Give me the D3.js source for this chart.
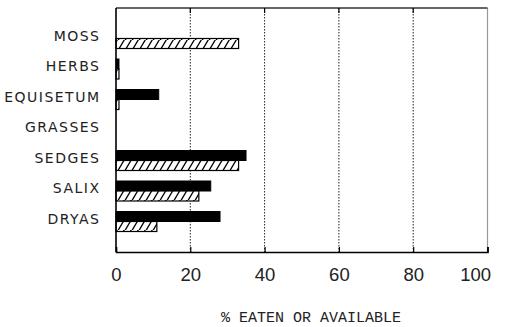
<!DOCTYPE html>
<html><head><meta charset="utf-8">
<script src="https://cdn.jsdelivr.net/npm/d3@7"></script>
<style>
html,body{margin:0;padding:0;background:#fff;}
</style></head>
<body>
<svg id="c" width="508" height="327"></svg>
<script>
const categories = ["MOSS","HERBS","EQUISETUM","GRASSES","SEDGES","SALIX","DRYAS"];
const eaten =      [0, 0.8, 11.5, 0, 35, 25.5, 28];
const available =  [33, 0.8, 0.8, 0, 33, 22.3, 11];
const ticks = [0,20,40,60,80,100];
const xTitle = "% EATEN OR AVAILABLE";

const svg = d3.select("#c");
const L=116, R=487.5, T=8, B=252;
const x = d3.scaleLinear().domain([0,100]).range([L,R]);
const y = d3.scalePoint().domain(categories).range([T,B]).padding(1);
const bh = 10;

const defs = svg.append("defs");
const pat = defs.append("pattern").attr("id","hatch").attr("patternUnits","userSpaceOnUse")
  .attr("width",7).attr("height",10);
pat.append("rect").attr("width",7).attr("height",10).attr("fill","#fff");
pat.append("path").attr("d","M-1,10.5 L5.5,-0.5 M6,10.5 L12.5,-0.5 M-8,10.5 L-1.5,-0.5").attr("stroke","#000").attr("stroke-width",1.3);

// grid
svg.append("g").selectAll("line").data(ticks.filter(t=>t>0&&t<100)).join("line")
  .attr("x1",d=>x(d)).attr("x2",d=>x(d)).attr("y1",T).attr("y2",B)
  .attr("stroke","#222").attr("stroke-width",1).attr("stroke-dasharray","1.5,1.5");

// frame
svg.append("line").attr("x1",R).attr("x2",R).attr("y1",T).attr("y2",B).attr("stroke","#999").attr("stroke-width",1.2);
svg.append("line").attr("x1",L).attr("x2",R).attr("y1",T).attr("y2",T).attr("stroke","#333").attr("stroke-width",1.5);

// bars
const g = svg.append("g");
categories.forEach((c,i)=>{
  if(eaten[i]>0) g.append("rect").attr("x",x(0)).attr("y",y(c)-bh).attr("width",x(eaten[i])-x(0)).attr("height",bh)
    .attr("fill","#000").attr("stroke","#000").attr("stroke-width",1);
  if(available[i]>0) g.append("rect").attr("x",x(0)).attr("y",y(c)).attr("width",x(available[i])-x(0)).attr("height",bh)
    .attr("fill","url(#hatch)").attr("stroke","#000").attr("stroke-width",1.2);
});

// axes
const xa = svg.append("g").attr("transform",`translate(0,${B})`)
  .call(d3.axisBottom(x).tickValues(ticks).tickSize(-5).tickPadding(12).tickFormat(d3.format("d")));
xa.select(".domain").attr("stroke","#000").attr("stroke-width",1.6);
xa.selectAll(".tick line").attr("stroke","#000").attr("stroke-width",1.2);
xa.selectAll(".tick text").attr("font-family","Liberation Sans").attr("font-size",18.5).attr("fill","#222")
  .attr("dy","0.93em")
  .attr("text-anchor",d=>d===100?"end":"middle").attr("dx",d=>d===100?"3":"0");
svg.append("g").selectAll("line").data(ticks.filter(t=>t>0&&t<100)).join("line")
  .attr("x1",d=>x(d)).attr("x2",d=>x(d)).attr("y1",T).attr("y2",T+5).attr("stroke","#000").attr("stroke-width",1.2);

svg.append("line").attr("x1",L).attr("x2",L).attr("y1",T).attr("y2",B).attr("stroke","#000").attr("stroke-width",1.6);

// category labels
svg.append("g").selectAll("text").data(categories).join("text")
  .attr("x",100.5).attr("y",d=>y(d)-3).attr("dy","0.36em").attr("text-anchor","end")
  .attr("font-family","DejaVu Sans").attr("font-size",14).attr("letter-spacing","1.5px").attr("fill","#222")
  .text(d=>d);

svg.append("text").attr("x",311).attr("y",322).attr("text-anchor","middle")
  .attr("font-family","Liberation Mono").attr("font-size",15).attr("fill","#222").text(xTitle);
</script>
</body></html>
